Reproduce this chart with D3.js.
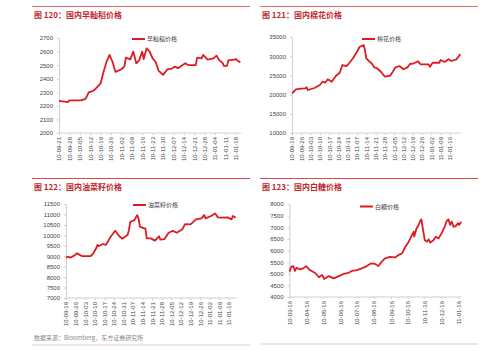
<!DOCTYPE html>
<html lang="zh">
<head>
<meta charset="UTF-8">
<title>农产品价格</title>
<script src="https://cdn.jsdelivr.net/npm/d3@7"></script>
<style>
  html, body { margin: 0; padding: 0; background: #fff; }
  svg { display: block; }
  .title { font-family: "Noto Sans CJK SC", sans-serif; font-size: 8px; font-weight: 700; fill: #c0282e; }
  .legend { font-family: "Noto Sans CJK SC", sans-serif; font-size: 6px; fill: #444; }
  .source { font-family: "Noto Sans CJK SC", sans-serif; font-size: 6px; fill: #888; }
  .axis text { font-family: "Liberation Sans", Arial, sans-serif; font-size: 6px; fill: #444; }
  .axis path, .axis line { stroke: #cfcfcf; }
</style>
</head>
<body>
<div id="chart"></div>
<script>
  // 早籼稻: [距首个刻度的天数, 价格]
  const riceTicks = ['10-09-21','10-09-28','10-10-05','10-10-12','10-10-19','10-10-26','10-11-02','10-11-09','10-11-16',
    '10-11-23','10-11-30','10-12-07','10-12-14','10-12-21','10-12-28','11-01-04','11-01-11','11-01-18']
  const riceY = [2000, 2100, 2200, 2300, 2400, 2500, 2600, 2700]
  const rice = [[0,2236],[6,2228],[7,2240],[15,2240],[18,2253],[20,2300],[23,2310],[25,2330],[28,2366],[30,2452],
    [32,2525],[34,2575],[36,2525],[38,2450],[40,2460],[42,2470],[44,2490],[45,2556],[48,2543],[50,2600],[52,2514],
    [54,2535],[56,2600],[57,2545],[59,2624],[61,2600],[63,2550],[65,2525],[67,2460],[70,2428],[73,2470],[76,2475],
    [78,2490],[80,2478],[85,2514],[87,2500],[92,2500],[93,2555],[96,2550],[97,2575],[100,2540],[104,2550],[106,2570],
    [108,2535],[110,2518],[111,2494],[113,2494],[114,2535],[118,2540],[119,2545],[120,2535],[121,2528],[122,2520]]

  // 棉花
  const cottonTicks = ['10-09-19','10-09-26','10-10-03','10-10-10','10-10-17','10-10-24','10-10-31','10-11-07','10-11-14',
    '10-11-21','10-11-28','10-12-05','10-12-12','10-12-19','10-12-26','11-01-02','11-01-09','11-01-16']
  const cottonY = [10000, 15000, 20000, 25000, 30000, 35000]
  const cotton = [[0,20340],[3,21380],[7,21540],[10,21600],[11,21900],[12,21200],[17,21720],[21,22500],[23,23360],
    [25,23100],[27,24000],[30,23360],[33,24840],[36,25700],[38,27700],[41,27400],[43,28150],[46,29450],[49,31170],
    [51,32470],[54,32900],[55,31600],[56,29450],[59,28400],[60,28150],[62,27100],[64,26870],[67,25960],[69,25100],
    [70,24660],[74,24920],[76,25960],[78,27100],[81,27450],[84,26600],[87,27100],[89,27970],[92,28150],[95,28670],
    [97,27880],[103,27880],[104,27270],[106,28300],[111,28300],[112,29000],[115,28500],[118,29200],[120,28750],
    [124,29200],[127,30570]]

  // 油菜籽
  const rapeTicks = cottonTicks
  const rapeY = [7000, 7500, 8000, 8500, 9000, 9500, 10000, 10500, 11000, 11500]
  const rapeseed = [[0,8930],[2,8980],[3,8930],[6,9030],[8,9140],[11,9030],[12,9000],[18,9000],[20,9140],[22,9380],
    [23,9540],[24,9490],[27,9585],[29,9540],[31,9745],[33,9970],[36,10220],[39,9955],[41,9840],[45,10015],[46,10255],
    [47,10650],[50,10730],[52,10970],[53,10810],[54,10415],[57,10335],[58,10335],[59,9855],[62,9855],[65,9745],
    [68,9955],[69,9790],[72,9820],[75,10125],[78,10210],[81,10125],[85,10290],[87,10540],[91,10525],[95,10765],
    [99,10810],[101,10970],[102,10810],[106,10925],[109,11050],[111,10860],[114,10845],[118,10860],[121,10765],
    [122,10925],[124,10845]]

  // 白糖
  const sugarTicks = ['10-03-16','10-04-16','10-05-16','10-06-16','10-07-16','10-08-16','10-09-16','10-10-16',
    '10-11-16','10-12-16','11-01-16']
  const sugarY = [4000, 4500, 5000, 5500, 6000, 6500, 7000, 7500, 8000]
  const sugar = [[0,5090],[3,5300],[7,5330],[10,5120],[13,5260],[18,5190],[25,5230],[30,5330],[37,5160],[47,5020],
    [53,4850],[59,4950],[63,4775],[71,4900],[80,4800],[89,4900],[98,4990],[107,5040],[113,5120],[122,5160],
    [131,5230],[140,5330],[148,5450],[155,5420],[161,5330],[167,5520],[173,5660],[182,5730],[191,5700],[197,5800],
    [204,5880],[210,6160],[216,6380],[222,6670],[225,6810],[226,6600],[230,6950],[234,7100],[237,7280],[239,7340],
    [241,7020],[245,6450],[249,6380],[252,6480],[255,6340],[261,6450],[265,6590],[270,6520],[276,6770],[281,7020],
    [285,7280],[288,7340],[291,7100],[294,7240],[297,7020],[301,7050],[305,7170],[307,7100],[311,7240]]

  const W = 499, H = 351
  const parse = d3.timeParse('%y-%m-%d')
  const lineColor = '#dd1c22'

  const svg = d3.select('#chart').append('svg')
    .attr('width', W)
    .attr('height', H)

  // 页面分隔线
  svg.append('line').attr('x1', 32).attr('x2', 250).attr('y1', 6.5).attr('y2', 6.5).attr('stroke', '#e06b6b').attr('stroke-width', 1)
  svg.append('line').attr('x1', 260).attr('x2', 478).attr('y1', 6.5).attr('y2', 6.5).attr('stroke', '#e06b6b').attr('stroke-width', 1)
  svg.append('line').attr('x1', 32).attr('x2', 250).attr('y1', 178.5).attr('y2', 178.5).attr('stroke', '#d9474c').attr('stroke-width', 1)
  svg.append('line').attr('x1', 260).attr('x2', 478).attr('y1', 178.5).attr('y2', 178.5).attr('stroke', '#d9474c').attr('stroke-width', 1)
  svg.append('line').attr('x1', 32).attr('x2', 250).attr('y1', 345).attr('y2', 345).attr('stroke', '#ecdcd6').attr('stroke-width', 1.5)
  svg.append('line').attr('x1', 260).attr('x2', 478).attr('y1', 344).attr('y2', 344).attr('stroke', '#ecdcd6').attr('stroke-width', 1.5)

  svg.append('text').attr('class', 'source').attr('x', 34).attr('y', 340).text('数据来源：Bloomberg，东方证券研究所')

  function panel (cfg) {
    const start = parse(cfg.ticks[0])
    const dayOf = s => Math.round((parse(s) - start) / 864e5)

    const x = d3.scaleLinear().domain([0, cfg.lastDay]).range([cfg.x0, cfg.x1])
    const y = d3.scaleLinear().domain(d3.extent(cfg.yTicks)).range([cfg.y0, cfg.y1])

    svg.append('text').attr('class', 'title')
      .attr('x', cfg.titleX).attr('y', cfg.titleY)
      .text(cfg.title)

    const labelOf = {}
    cfg.ticks.forEach(t => { labelOf[dayOf(t)] = t })

    const gx = svg.append('g').attr('class', 'axis')
      .attr('transform', `translate(0,${cfg.y0})`)
      .call(d3.axisBottom(x).tickValues(cfg.ticks.map(dayOf)).tickFormat(d => labelOf[d]).tickSize(2).tickSizeOuter(0))
    gx.select('.domain').attr('d', `M${cfg.x0},0H${cfg.x1}`)
    gx.selectAll('text')
      .attr('transform', 'rotate(-90)')
      .attr('x', -4).attr('y', 0).attr('dy', '0.32em')
      .style('text-anchor', 'end')

    svg.append('g').attr('class', 'axis')
      .attr('transform', `translate(${cfg.x0},0)`)
      .call(d3.axisLeft(y).tickValues(cfg.yTicks).tickFormat(d3.format('d')).tickSize(2).tickPadding(4).tickSizeOuter(0))

    const line = d3.line().x(d => x(d[0])).y(d => y(d[1]))
    svg.append('path').datum(cfg.data)
      .attr('fill', 'none')
      .attr('stroke', lineColor)
      .attr('stroke-width', 1.8)
      .attr('stroke-linejoin', 'round')
      .attr('d', line)

    // 图例
    svg.append('line')
      .attr('x1', cfg.legendX).attr('x2', cfg.legendX + 13)
      .attr('y1', cfg.legendY).attr('y2', cfg.legendY)
      .attr('stroke', lineColor).attr('stroke-width', 2)
    svg.append('text').attr('class', 'legend')
      .attr('x', cfg.legendX + 15).attr('y', cfg.legendY).attr('dy', '0.35em')
      .text(cfg.name)
  }

  panel({ title: '图 120：国内早籼稻价格', name: '早籼稻价格', ticks: riceTicks, yTicks: riceY, data: rice,
    lastDay: 122.5, x0: 59, x1: 241, y0: 133, y1: 38, titleX: 34, titleY: 18, legendX: 132, legendY: 39 })
  panel({ title: '图 121：国内棉花价格', name: '棉花价格', ticks: cottonTicks, yTicks: cottonY, data: cotton,
    lastDay: 127.4, x0: 292, x1: 461, y0: 133, y1: 37, titleX: 262, titleY: 18, legendX: 362, legendY: 39 })
  panel({ title: '图 122：国内油菜籽价格', name: '油菜籽价格', ticks: rapeTicks, yTicks: rapeY, data: rapeseed,
    lastDay: 124.6, x0: 66, x1: 236.5, y0: 298, y1: 204, titleX: 34, titleY: 190, legendX: 133, legendY: 205 })
  panel({ title: '图 123：国内白糖价格', name: '白糖价格', ticks: sugarTicks, yTicks: sugarY, data: sugar,
    lastDay: 311, x0: 289.5, x1: 461.2, y0: 297, y1: 204, titleX: 262, titleY: 190, legendX: 360, legendY: 206.5 })
</script>
</body>
</html>
